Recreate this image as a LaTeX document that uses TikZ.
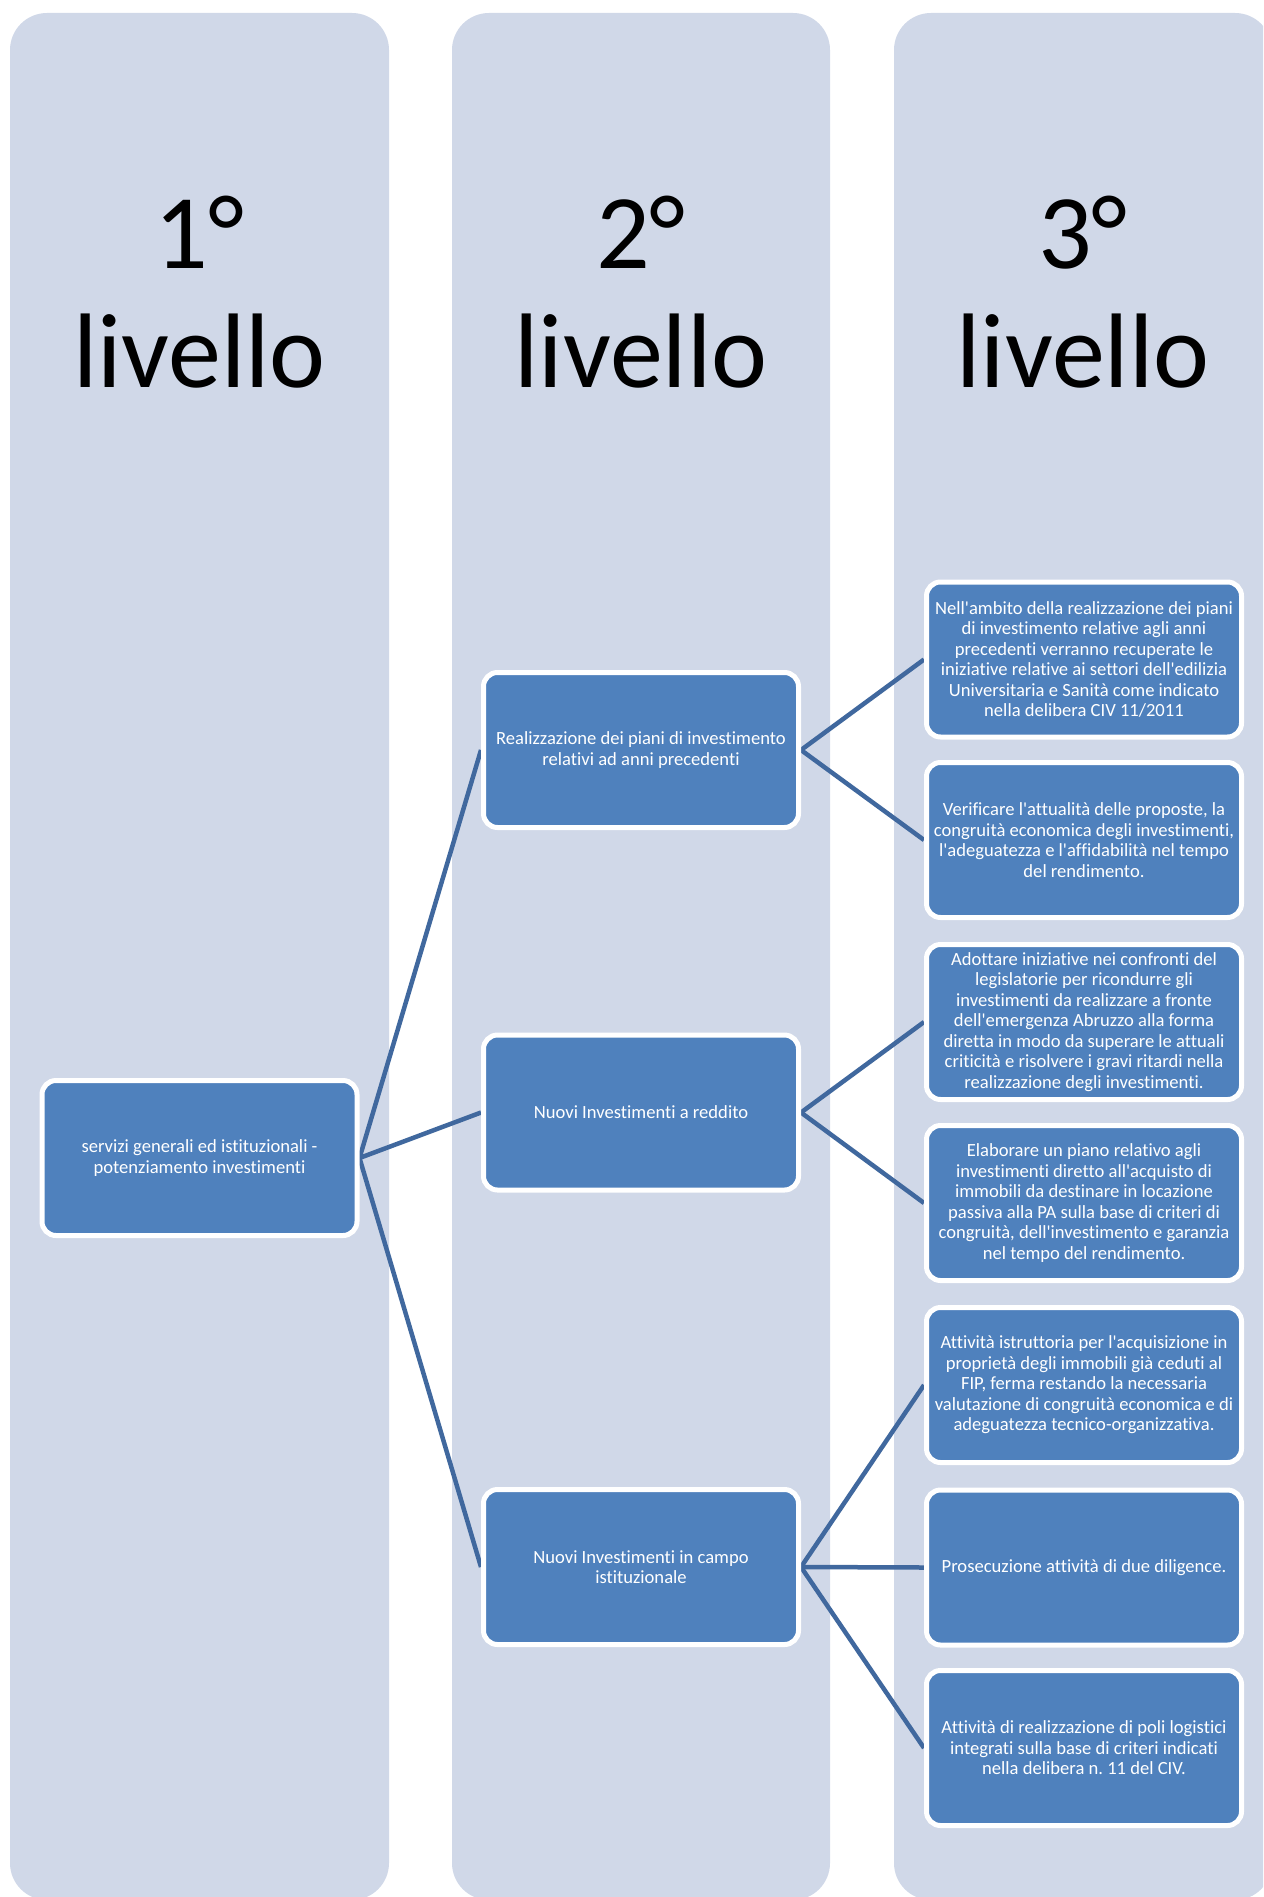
\documentclass[tikz,border=0pt]{standalone}
\usepackage{fontspec}
\setmainfont{Carlito}
\newfontfamily\boxfont{Carlito}[Ligatures=NoCommon]
\frenchspacing
\definecolor{colbg}{RGB}{208,216,232}
\definecolor{boxfill}{RGB}{79,129,189}
\definecolor{linkc}{RGB}{64,104,158}
\pgfdeclarelayer{bg}
\pgfdeclarelayer{mid}
\pgfsetlayers{bg,mid,main}
\begin{document}
\frenchspacing
\begin{tikzpicture}[x=1pt,y=-1pt,
  column/.style={fill=colbg, rounded corners=37pt},
  heading/.style={font=\boxfont\fontsize{106}{119}\selectfont, align=center, anchor=base, text=black, inner sep=0pt},
  box/.style={draw=white, line width=5pt, fill=boxfill, rounded corners=14pt,
    minimum width=315pt, minimum height=155pt, inner sep=2pt, align=center,
    text=white, font=\boxfont\fontsize{18.6}{20.5}\selectfont},
  link/.style={draw=linkc, line width=4.5pt}]
\useasboundingbox (0,0) rectangle (1263,1897);
\begin{pgfonlayer}{bg}
\begin{scope}
\clip (0,0) rectangle (1263,1897);
\fill[white] (0,0) rectangle (1263,1897);
\path[column] (10,13) rectangle (389,1900);
\path[column] (452,13) rectangle (830,1900);
\path[column] (894,13) rectangle (1272,1900);
\end{scope}
\end{pgfonlayer}

\node[heading] (h1) at (199.5,387) {1°\\livello};
\node[heading] (h2) at (641,387) {2°\\livello};
\node[heading] (h3) at (1083,387) {3°\\livello};

\node[box] (a) at (199.5,1158) {servizi generali ed istituzionali -\\potenziamento investimenti};

\node[box] (b1) at (641,750) {Realizzazione dei piani di investimento\\relativi ad anni precedenti};
\node[box] (b2) at (641,1112.5) {Nuovi Investimenti a reddito};
\node[box] (b3) at (641,1567) {Nuovi Investimenti in campo\\istituzionale};

\node[box] (c1) at (1084,659.5) {Nell'ambito della realizzazione dei piani\\di investimento relative agli anni\\precedenti verranno recuperate le\\iniziative relative ai settori dell'edilizia\\Universitaria e Sanità come indicato\\nella delibera CIV 11/2011};
\node[box] (c2) at (1084,840) {Verificare l'attualità delle proposte, la\\congruità economica degli investimenti,\\l'adeguatezza e l'affidabilità nel tempo\\del rendimento.};
\node[box] (c3) at (1084,1022) {Adottare iniziative nei confronti del\\legislatorie per ricondurre gli\\investimenti da realizzare a fronte\\dell'emergenza Abruzzo alla forma\\diretta in modo da superare le attuali\\criticità e risolvere i gravi ritardi nella\\realizzazione degli investimenti.};
\node[box] (c4) at (1084,1203) {Elaborare un piano relativo agli\\investimenti diretto all'acquisto di\\immobili da destinare in locazione\\passiva alla PA sulla base di criteri di\\congruità, dell'investimento e garanzia\\nel tempo del rendimento.};
\node[box] (c5) at (1084,1385) {Attività istruttoria per l'acquisizione in\\proprietà degli immobili già ceduti al\\FIP, ferma restando la necessaria\\valutazione di congruità economica e di\\adeguatezza tecnico-organizzativa.};
\node[box] (c6) at (1084,1567.5) {Prosecuzione attività di due diligence.};
\node[box] (c7) at (1084,1748) {Attività di realizzazione di poli logistici\\integrati sulla base di criteri indicati\\nella delibera n. 11 del CIV.};

\begin{pgfonlayer}{mid}
\draw[link] (a.east) -- (b1.west);
\draw[link] (a.east) -- (b2.west);
\draw[link] (a.east) -- (b3.west);
\draw[link] (b1.east) -- (c1.west);
\draw[link] (b1.east) -- (c2.west);
\draw[link] (b2.east) -- (c3.west);
\draw[link] (b2.east) -- (c4.west);
\draw[link] (b3.east) -- (c5.west);
\draw[link] (b3.east) -- (c6.west);
\draw[link] (b3.east) -- (c7.west);
\end{pgfonlayer}
\end{tikzpicture}
\end{document}
